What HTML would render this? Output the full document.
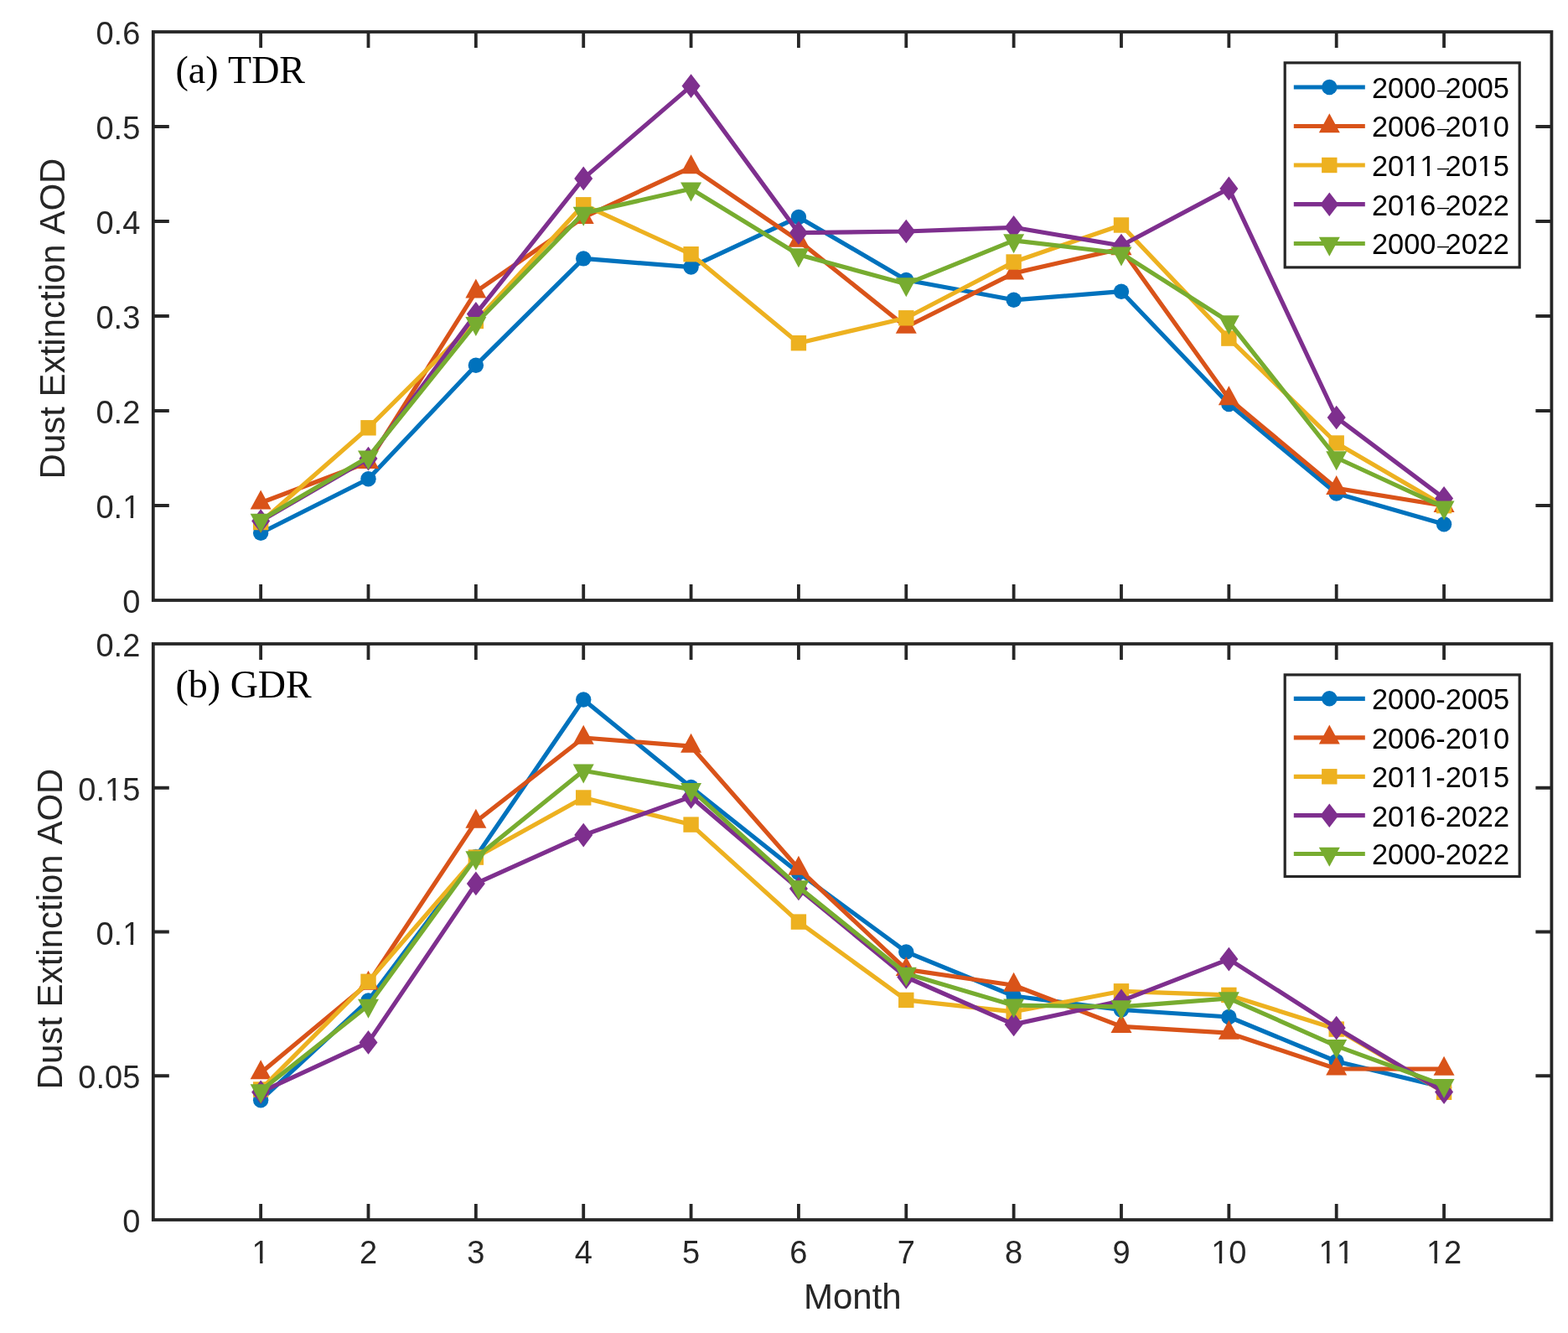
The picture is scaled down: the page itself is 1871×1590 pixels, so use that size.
<!DOCTYPE html>
<html><head><meta charset="utf-8"><title>Dust Extinction AOD</title>
<style>
html,body{margin:0;padding:0;background:#fff;}
body{width:1871px;height:1590px;overflow:hidden;}
svg{display:block;}
.tk{font-family:"Liberation Sans",Arial,sans-serif;font-size:38px;fill:#262626;font-kerning:none;}
.lb{font-family:"Liberation Sans",Arial,sans-serif;font-size:42px;fill:#262626;font-kerning:none;}
.lg{font-family:"Liberation Sans",Arial,sans-serif;font-size:34.3px;fill:#000;font-kerning:none;}
.dash{font-family:"Liberation Serif",serif;font-size:27px;}
.pl{font-family:"Liberation Serif","Times New Roman",serif;font-size:46px;fill:#000;font-kerning:none;}
</style></head>
<body>
<svg width="1871" height="1590" viewBox="0 0 1871 1590">
<rect width="1871" height="1590" fill="#fff"/>
<polyline points="311.15,635.8 439.51,571.3 567.86,435.7 696.22,308.4 824.57,318.6 952.92,258.9 1081.28,334 1209.63,357.8 1337.98,347.7 1466.34,482 1594.69,588.5 1723.05,625.2" fill="none" stroke="#0072BD" stroke-width="5.2" stroke-linejoin="round" stroke-linecap="butt"/>
<circle cx="311.15" cy="635.8" r="9.2" fill="#0072BD"/><circle cx="439.51" cy="571.3" r="9.2" fill="#0072BD"/><circle cx="567.86" cy="435.7" r="9.2" fill="#0072BD"/><circle cx="696.22" cy="308.4" r="9.2" fill="#0072BD"/><circle cx="824.57" cy="318.6" r="9.2" fill="#0072BD"/><circle cx="952.92" cy="258.9" r="9.2" fill="#0072BD"/><circle cx="1081.28" cy="334" r="9.2" fill="#0072BD"/><circle cx="1209.63" cy="357.8" r="9.2" fill="#0072BD"/><circle cx="1337.98" cy="347.7" r="9.2" fill="#0072BD"/><circle cx="1466.34" cy="482" r="9.2" fill="#0072BD"/><circle cx="1594.69" cy="588.5" r="9.2" fill="#0072BD"/><circle cx="1723.05" cy="625.2" r="9.2" fill="#0072BD"/>
<polyline points="311.15,599.8 439.51,551.3 567.86,347.8 696.22,259.3 824.57,199.6 952.92,287.1 1081.28,390 1209.63,325.9 1337.98,296.6 1466.34,475.6 1594.69,582.4 1723.05,603.3" fill="none" stroke="#D95319" stroke-width="5.2" stroke-linejoin="round" stroke-linecap="butt"/>
<polygon points="311.15,584.47 323.65,607.47 298.65,607.47" fill="#D95319"/><polygon points="439.51,535.97 452.01,558.97 427.01,558.97" fill="#D95319"/><polygon points="567.86,332.47 580.36,355.47 555.36,355.47" fill="#D95319"/><polygon points="696.22,243.97 708.72,266.97 683.72,266.97" fill="#D95319"/><polygon points="824.57,184.27 837.07,207.27 812.07,207.27" fill="#D95319"/><polygon points="952.92,271.77 965.42,294.77 940.42,294.77" fill="#D95319"/><polygon points="1081.28,374.67 1093.78,397.67 1068.78,397.67" fill="#D95319"/><polygon points="1209.63,310.57 1222.13,333.57 1197.13,333.57" fill="#D95319"/><polygon points="1337.98,281.27 1350.48,304.27 1325.48,304.27" fill="#D95319"/><polygon points="1466.34,460.27 1478.84,483.27 1453.84,483.27" fill="#D95319"/><polygon points="1594.69,567.07 1607.19,590.07 1582.19,590.07" fill="#D95319"/><polygon points="1723.05,587.97 1735.55,610.97 1710.55,610.97" fill="#D95319"/>
<polyline points="311.15,623 439.51,510.3 567.86,383 696.22,244.3 824.57,303.2 952.92,409.2 1081.28,379.3 1209.63,312.5 1337.98,268.5 1466.34,403.6 1594.69,528.5 1723.05,603.2" fill="none" stroke="#EDB120" stroke-width="5.2" stroke-linejoin="round" stroke-linecap="butt"/>
<rect x="301.95" y="613.8" width="18.4" height="18.4" fill="#EDB120"/><rect x="430.31" y="501.1" width="18.4" height="18.4" fill="#EDB120"/><rect x="558.66" y="373.8" width="18.4" height="18.4" fill="#EDB120"/><rect x="687.02" y="235.1" width="18.4" height="18.4" fill="#EDB120"/><rect x="815.37" y="294" width="18.4" height="18.4" fill="#EDB120"/><rect x="943.72" y="400" width="18.4" height="18.4" fill="#EDB120"/><rect x="1072.08" y="370.1" width="18.4" height="18.4" fill="#EDB120"/><rect x="1200.43" y="303.3" width="18.4" height="18.4" fill="#EDB120"/><rect x="1328.78" y="259.3" width="18.4" height="18.4" fill="#EDB120"/><rect x="1457.14" y="394.4" width="18.4" height="18.4" fill="#EDB120"/><rect x="1585.49" y="519.3" width="18.4" height="18.4" fill="#EDB120"/><rect x="1713.85" y="594" width="18.4" height="18.4" fill="#EDB120"/>
<polyline points="311.15,621.5 439.51,547.1 567.86,374.4 696.22,212.9 824.57,102.6 952.92,277.7 1081.28,276 1209.63,271.3 1337.98,293 1466.34,224.9 1594.69,498 1723.05,594.4" fill="none" stroke="#7E2F8E" stroke-width="5.2" stroke-linejoin="round" stroke-linecap="butt"/>
<polygon points="311.15,607.2 322.15,621.5 311.15,635.8 300.15,621.5" fill="#7E2F8E"/><polygon points="439.51,532.8 450.51,547.1 439.51,561.4 428.51,547.1" fill="#7E2F8E"/><polygon points="567.86,360.1 578.86,374.4 567.86,388.7 556.86,374.4" fill="#7E2F8E"/><polygon points="696.22,198.6 707.22,212.9 696.22,227.2 685.22,212.9" fill="#7E2F8E"/><polygon points="824.57,88.3 835.57,102.6 824.57,116.9 813.57,102.6" fill="#7E2F8E"/><polygon points="952.92,263.4 963.92,277.7 952.92,292 941.92,277.7" fill="#7E2F8E"/><polygon points="1081.28,261.7 1092.28,276 1081.28,290.3 1070.28,276" fill="#7E2F8E"/><polygon points="1209.63,257 1220.63,271.3 1209.63,285.6 1198.63,271.3" fill="#7E2F8E"/><polygon points="1337.98,278.7 1348.98,293 1337.98,307.3 1326.98,293" fill="#7E2F8E"/><polygon points="1466.34,210.6 1477.34,224.9 1466.34,239.2 1455.34,224.9" fill="#7E2F8E"/><polygon points="1594.69,483.7 1605.69,498 1594.69,512.3 1583.69,498" fill="#7E2F8E"/><polygon points="1723.05,580.1 1734.05,594.4 1723.05,608.7 1712.05,594.4" fill="#7E2F8E"/>
<polyline points="311.15,620.3 439.51,545.2 567.86,385.7 696.22,254.4 824.57,225.2 952.92,303.8 1081.28,338.8 1209.63,286.8 1337.98,302.1 1466.34,383.8 1594.69,546 1723.05,605.2" fill="none" stroke="#77AC30" stroke-width="5.2" stroke-linejoin="round" stroke-linecap="butt"/>
<polygon points="311.15,635.63 323.65,612.63 298.65,612.63" fill="#77AC30"/><polygon points="439.51,560.53 452.01,537.53 427.01,537.53" fill="#77AC30"/><polygon points="567.86,401.03 580.36,378.03 555.36,378.03" fill="#77AC30"/><polygon points="696.22,269.73 708.72,246.73 683.72,246.73" fill="#77AC30"/><polygon points="824.57,240.53 837.07,217.53 812.07,217.53" fill="#77AC30"/><polygon points="952.92,319.13 965.42,296.13 940.42,296.13" fill="#77AC30"/><polygon points="1081.28,354.13 1093.78,331.13 1068.78,331.13" fill="#77AC30"/><polygon points="1209.63,302.13 1222.13,279.13 1197.13,279.13" fill="#77AC30"/><polygon points="1337.98,317.43 1350.48,294.43 1325.48,294.43" fill="#77AC30"/><polygon points="1466.34,399.13 1478.84,376.13 1453.84,376.13" fill="#77AC30"/><polygon points="1594.69,561.33 1607.19,538.33 1582.19,538.33" fill="#77AC30"/><polygon points="1723.05,620.53 1735.55,597.53 1710.55,597.53" fill="#77AC30"/>
<rect x="182.8" y="38" width="1668.6" height="678" fill="none" stroke="#262626" stroke-width="3.8"/>
<path d="M311.15 716V697M311.15 38V57M439.51 716V697M439.51 38V57M567.86 716V697M567.86 38V57M696.22 716V697M696.22 38V57M824.57 716V697M824.57 38V57M952.92 716V697M952.92 38V57M1081.28 716V697M1081.28 38V57M1209.63 716V697M1209.63 38V57M1337.98 716V697M1337.98 38V57M1466.34 716V697M1466.34 38V57M1594.69 716V697M1594.69 38V57M1723.05 716V697M1723.05 38V57M182.8 603H201.8M1851.4 603H1832.4M182.8 490H201.8M1851.4 490H1832.4M182.8 377H201.8M1851.4 377H1832.4M182.8 264H201.8M1851.4 264H1832.4M182.8 151H201.8M1851.4 151H1832.4" stroke="#262626" stroke-width="3.8" fill="none"/>
<text x="167.3" y="731" text-anchor="end" class="tk">0</text>
<text x="167.3" y="618" text-anchor="end" class="tk">0.1</text>
<text x="167.3" y="505" text-anchor="end" class="tk">0.2</text>
<text x="167.3" y="392" text-anchor="end" class="tk">0.3</text>
<text x="167.3" y="279" text-anchor="end" class="tk">0.4</text>
<text x="167.3" y="166" text-anchor="end" class="tk">0.5</text>
<text x="167.3" y="53" text-anchor="end" class="tk">0.6</text>
<text x="209.5" y="98.9" class="pl">(a) TDR</text>
<text transform="translate(76.5 380) rotate(-90)" text-anchor="middle" class="lb">Dust Extinction AOD</text>
<rect x="1533.2" y="74.9" width="280" height="244" fill="#fff" stroke="#262626" stroke-width="3.2"/>
<path d="M1543.8 104H1628.8" stroke="#0072BD" stroke-width="5.2"/>
<circle cx="1586.3" cy="104" r="9.2" fill="#0072BD"/>
<text x="1637" y="116.9" class="lg">2000<tspan dx="1.85" dy="-2" class="dash">&#8211;</tspan><tspan dx="-4.04" dy="2">2005</tspan></text>
<path d="M1543.8 150.5H1628.8" stroke="#D95319" stroke-width="5.2"/>
<polygon points="1586.3,135.17 1598.8,158.17 1573.8,158.17" fill="#D95319"/>
<text x="1637" y="163.4" class="lg">2006<tspan dx="1.85" dy="-2" class="dash">&#8211;</tspan><tspan dx="-4.04" dy="2">2010</tspan></text>
<path d="M1543.8 197H1628.8" stroke="#EDB120" stroke-width="5.2"/>
<rect x="1577.1" y="187.8" width="18.4" height="18.4" fill="#EDB120"/>
<text x="1637" y="209.9" class="lg">2011<tspan dx="1.85" dy="-2" class="dash">&#8211;</tspan><tspan dx="-4.04" dy="2">2015</tspan></text>
<path d="M1543.8 243.7H1628.8" stroke="#7E2F8E" stroke-width="5.2"/>
<polygon points="1586.3,229.4 1597.3,243.7 1586.3,258 1575.3,243.7" fill="#7E2F8E"/>
<text x="1637" y="256.6" class="lg">2016<tspan dx="1.85" dy="-2" class="dash">&#8211;</tspan><tspan dx="-4.04" dy="2">2022</tspan></text>
<path d="M1543.8 290.5H1628.8" stroke="#77AC30" stroke-width="5.2"/>
<polygon points="1586.3,305.83 1598.8,282.83 1573.8,282.83" fill="#77AC30"/>
<text x="1637" y="303.4" class="lg">2000<tspan dx="1.85" dy="-2" class="dash">&#8211;</tspan><tspan dx="-4.04" dy="2">2022</tspan></text>
<polyline points="311.15,1312.2 439.51,1193.4 567.86,1022 696.22,834.5 824.57,939 952.92,1041 1081.28,1135.4 1209.63,1188 1337.98,1204.5 1466.34,1213 1594.69,1266 1723.05,1297" fill="none" stroke="#0072BD" stroke-width="5.2" stroke-linejoin="round" stroke-linecap="butt"/>
<circle cx="311.15" cy="1312.2" r="9.2" fill="#0072BD"/><circle cx="439.51" cy="1193.4" r="9.2" fill="#0072BD"/><circle cx="567.86" cy="1022" r="9.2" fill="#0072BD"/><circle cx="696.22" cy="834.5" r="9.2" fill="#0072BD"/><circle cx="824.57" cy="939" r="9.2" fill="#0072BD"/><circle cx="952.92" cy="1041" r="9.2" fill="#0072BD"/><circle cx="1081.28" cy="1135.4" r="9.2" fill="#0072BD"/><circle cx="1209.63" cy="1188" r="9.2" fill="#0072BD"/><circle cx="1337.98" cy="1204.5" r="9.2" fill="#0072BD"/><circle cx="1466.34" cy="1213" r="9.2" fill="#0072BD"/><circle cx="1594.69" cy="1266" r="9.2" fill="#0072BD"/><circle cx="1723.05" cy="1297" r="9.2" fill="#0072BD"/>
<polyline points="311.15,1279.7 439.51,1173 567.86,980 696.22,880 824.57,890.2 952.92,1036.2 1081.28,1156.4 1209.63,1175.2 1337.98,1224.4 1466.34,1232.2 1594.69,1274.8 1723.05,1275.2" fill="none" stroke="#D95319" stroke-width="5.2" stroke-linejoin="round" stroke-linecap="butt"/>
<polygon points="311.15,1264.37 323.65,1287.37 298.65,1287.37" fill="#D95319"/><polygon points="439.51,1157.67 452.01,1180.67 427.01,1180.67" fill="#D95319"/><polygon points="567.86,964.67 580.36,987.67 555.36,987.67" fill="#D95319"/><polygon points="696.22,864.67 708.72,887.67 683.72,887.67" fill="#D95319"/><polygon points="824.57,874.87 837.07,897.87 812.07,897.87" fill="#D95319"/><polygon points="952.92,1020.87 965.42,1043.87 940.42,1043.87" fill="#D95319"/><polygon points="1081.28,1141.07 1093.78,1164.07 1068.78,1164.07" fill="#D95319"/><polygon points="1209.63,1159.87 1222.13,1182.87 1197.13,1182.87" fill="#D95319"/><polygon points="1337.98,1209.07 1350.48,1232.07 1325.48,1232.07" fill="#D95319"/><polygon points="1466.34,1216.87 1478.84,1239.87 1453.84,1239.87" fill="#D95319"/><polygon points="1594.69,1259.47 1607.19,1282.47 1582.19,1282.47" fill="#D95319"/><polygon points="1723.05,1259.87 1735.55,1282.87 1710.55,1282.87" fill="#D95319"/>
<polyline points="311.15,1299.5 439.51,1170.8 567.86,1022.6 696.22,951.5 824.57,983.6 952.92,1099.6 1081.28,1192.9 1209.63,1206.8 1337.98,1182.3 1466.34,1186.9 1594.69,1227.6 1723.05,1302.8" fill="none" stroke="#EDB120" stroke-width="5.2" stroke-linejoin="round" stroke-linecap="butt"/>
<rect x="301.95" y="1290.3" width="18.4" height="18.4" fill="#EDB120"/><rect x="430.31" y="1161.6" width="18.4" height="18.4" fill="#EDB120"/><rect x="558.66" y="1013.4" width="18.4" height="18.4" fill="#EDB120"/><rect x="687.02" y="942.3" width="18.4" height="18.4" fill="#EDB120"/><rect x="815.37" y="974.4" width="18.4" height="18.4" fill="#EDB120"/><rect x="943.72" y="1090.4" width="18.4" height="18.4" fill="#EDB120"/><rect x="1072.08" y="1183.7" width="18.4" height="18.4" fill="#EDB120"/><rect x="1200.43" y="1197.6" width="18.4" height="18.4" fill="#EDB120"/><rect x="1328.78" y="1173.1" width="18.4" height="18.4" fill="#EDB120"/><rect x="1457.14" y="1177.7" width="18.4" height="18.4" fill="#EDB120"/><rect x="1585.49" y="1218.4" width="18.4" height="18.4" fill="#EDB120"/><rect x="1713.85" y="1293.6" width="18.4" height="18.4" fill="#EDB120"/>
<polyline points="311.15,1302.7 439.51,1243.4 567.86,1053.9 696.22,996.1 824.57,950.4 952.92,1060 1081.28,1165.5 1209.63,1221.9 1337.98,1193.9 1466.34,1144.1 1594.69,1226.1 1723.05,1302.6" fill="none" stroke="#7E2F8E" stroke-width="5.2" stroke-linejoin="round" stroke-linecap="butt"/>
<polygon points="311.15,1288.4 322.15,1302.7 311.15,1317 300.15,1302.7" fill="#7E2F8E"/><polygon points="439.51,1229.1 450.51,1243.4 439.51,1257.7 428.51,1243.4" fill="#7E2F8E"/><polygon points="567.86,1039.6 578.86,1053.9 567.86,1068.2 556.86,1053.9" fill="#7E2F8E"/><polygon points="696.22,981.8 707.22,996.1 696.22,1010.4 685.22,996.1" fill="#7E2F8E"/><polygon points="824.57,936.1 835.57,950.4 824.57,964.7 813.57,950.4" fill="#7E2F8E"/><polygon points="952.92,1045.7 963.92,1060 952.92,1074.3 941.92,1060" fill="#7E2F8E"/><polygon points="1081.28,1151.2 1092.28,1165.5 1081.28,1179.8 1070.28,1165.5" fill="#7E2F8E"/><polygon points="1209.63,1207.6 1220.63,1221.9 1209.63,1236.2 1198.63,1221.9" fill="#7E2F8E"/><polygon points="1337.98,1179.6 1348.98,1193.9 1337.98,1208.2 1326.98,1193.9" fill="#7E2F8E"/><polygon points="1466.34,1129.8 1477.34,1144.1 1466.34,1158.4 1455.34,1144.1" fill="#7E2F8E"/><polygon points="1594.69,1211.8 1605.69,1226.1 1594.69,1240.4 1583.69,1226.1" fill="#7E2F8E"/><polygon points="1723.05,1288.3 1734.05,1302.6 1723.05,1316.9 1712.05,1302.6" fill="#7E2F8E"/>
<polyline points="311.15,1301 439.51,1199.3 567.86,1023 696.22,919.2 824.57,941.6 952.92,1057.9 1081.28,1161.3 1209.63,1199.2 1337.98,1200.8 1466.34,1190.8 1594.69,1247.6 1723.05,1294.6" fill="none" stroke="#77AC30" stroke-width="5.2" stroke-linejoin="round" stroke-linecap="butt"/>
<polygon points="311.15,1316.33 323.65,1293.33 298.65,1293.33" fill="#77AC30"/><polygon points="439.51,1214.63 452.01,1191.63 427.01,1191.63" fill="#77AC30"/><polygon points="567.86,1038.33 580.36,1015.33 555.36,1015.33" fill="#77AC30"/><polygon points="696.22,934.53 708.72,911.53 683.72,911.53" fill="#77AC30"/><polygon points="824.57,956.93 837.07,933.93 812.07,933.93" fill="#77AC30"/><polygon points="952.92,1073.23 965.42,1050.23 940.42,1050.23" fill="#77AC30"/><polygon points="1081.28,1176.63 1093.78,1153.63 1068.78,1153.63" fill="#77AC30"/><polygon points="1209.63,1214.53 1222.13,1191.53 1197.13,1191.53" fill="#77AC30"/><polygon points="1337.98,1216.13 1350.48,1193.13 1325.48,1193.13" fill="#77AC30"/><polygon points="1466.34,1206.13 1478.84,1183.13 1453.84,1183.13" fill="#77AC30"/><polygon points="1594.69,1262.93 1607.19,1239.93 1582.19,1239.93" fill="#77AC30"/><polygon points="1723.05,1309.93 1735.55,1286.93 1710.55,1286.93" fill="#77AC30"/>
<rect x="182.8" y="768" width="1668.6" height="687" fill="none" stroke="#262626" stroke-width="3.8"/>
<path d="M311.15 1455V1436M311.15 768V787M439.51 1455V1436M439.51 768V787M567.86 1455V1436M567.86 768V787M696.22 1455V1436M696.22 768V787M824.57 1455V1436M824.57 768V787M952.92 1455V1436M952.92 768V787M1081.28 1455V1436M1081.28 768V787M1209.63 1455V1436M1209.63 768V787M1337.98 1455V1436M1337.98 768V787M1466.34 1455V1436M1466.34 768V787M1594.69 1455V1436M1594.69 768V787M1723.05 1455V1436M1723.05 768V787M182.8 1283.25H201.8M1851.4 1283.25H1832.4M182.8 1111.5H201.8M1851.4 1111.5H1832.4M182.8 939.75H201.8M1851.4 939.75H1832.4" stroke="#262626" stroke-width="3.8" fill="none"/>
<text x="167.3" y="1470" text-anchor="end" class="tk">0</text>
<text x="167.3" y="1298.25" text-anchor="end" class="tk">0.05</text>
<text x="167.3" y="1126.5" text-anchor="end" class="tk">0.1</text>
<text x="167.3" y="954.75" text-anchor="end" class="tk">0.15</text>
<text x="167.3" y="783" text-anchor="end" class="tk">0.2</text>
<text x="311.15" y="1507" text-anchor="middle" class="tk">1</text>
<text x="439.51" y="1507" text-anchor="middle" class="tk">2</text>
<text x="567.86" y="1507" text-anchor="middle" class="tk">3</text>
<text x="696.22" y="1507" text-anchor="middle" class="tk">4</text>
<text x="824.57" y="1507" text-anchor="middle" class="tk">5</text>
<text x="952.92" y="1507" text-anchor="middle" class="tk">6</text>
<text x="1081.28" y="1507" text-anchor="middle" class="tk">7</text>
<text x="1209.63" y="1507" text-anchor="middle" class="tk">8</text>
<text x="1337.98" y="1507" text-anchor="middle" class="tk">9</text>
<text x="1466.34" y="1507" text-anchor="middle" class="tk">10</text>
<text x="1594.69" y="1507" text-anchor="middle" class="tk">11</text>
<text x="1723.05" y="1507" text-anchor="middle" class="tk">12</text>
<text x="209.5" y="832.2" class="pl">(b) GDR</text>
<text transform="translate(74.4 1108) rotate(-90)" text-anchor="middle" class="lb">Dust Extinction AOD</text>
<rect x="1533.2" y="804.9" width="280" height="240.6" fill="#fff" stroke="#262626" stroke-width="3.2"/>
<path d="M1543.8 833.3H1628.8" stroke="#0072BD" stroke-width="5.2"/>
<circle cx="1586.3" cy="833.3" r="9.2" fill="#0072BD"/>
<text x="1637" y="846.2" class="lg">2000-2005</text>
<path d="M1543.8 879.8H1628.8" stroke="#D95319" stroke-width="5.2"/>
<polygon points="1586.3,864.47 1598.8,887.47 1573.8,887.47" fill="#D95319"/>
<text x="1637" y="892.7" class="lg">2006-2010</text>
<path d="M1543.8 926.3H1628.8" stroke="#EDB120" stroke-width="5.2"/>
<rect x="1577.1" y="917.1" width="18.4" height="18.4" fill="#EDB120"/>
<text x="1637" y="939.2" class="lg">2011-2015</text>
<path d="M1543.8 972.7H1628.8" stroke="#7E2F8E" stroke-width="5.2"/>
<polygon points="1586.3,958.4 1597.3,972.7 1586.3,987 1575.3,972.7" fill="#7E2F8E"/>
<text x="1637" y="985.6" class="lg">2016-2022</text>
<path d="M1543.8 1018.5H1628.8" stroke="#77AC30" stroke-width="5.2"/>
<polygon points="1586.3,1033.83 1598.8,1010.83 1573.8,1010.83" fill="#77AC30"/>
<text x="1637" y="1031.4" class="lg">2000-2022</text>
<text x="1017.3" y="1561" text-anchor="middle" class="lb">Month</text>
<g fill="#fff"><rect x="148.15" y="613.56" width="7.57" height="5.44"/><rect x="159.08" y="613.56" width="7.28" height="5.44"/><rect x="1764.59" y="159.24" width="6.91" height="5.16"/><rect x="1774.53" y="159.24" width="6.65" height="5.16"/><rect x="1676.86" y="205.74" width="6.91" height="5.16"/><rect x="1686.81" y="205.74" width="6.65" height="5.16"/><rect x="1695.94" y="205.74" width="6.91" height="5.16"/><rect x="1705.88" y="205.74" width="6.65" height="5.16"/><rect x="1764.59" y="205.74" width="6.91" height="5.16"/><rect x="1774.53" y="205.74" width="6.65" height="5.16"/><rect x="1676.86" y="252.44" width="6.91" height="5.16"/><rect x="1686.81" y="252.44" width="6.65" height="5.16"/><rect x="148.15" y="1122.06" width="7.57" height="5.44"/><rect x="159.08" y="1122.06" width="7.28" height="5.44"/><rect x="127.02" y="950.31" width="7.57" height="5.44"/><rect x="137.95" y="950.31" width="7.28" height="5.44"/><rect x="302.57" y="1502.56" width="7.57" height="5.44"/><rect x="313.5" y="1502.56" width="7.28" height="5.44"/><rect x="1447.19" y="1502.56" width="7.57" height="5.44"/><rect x="1458.12" y="1502.56" width="7.28" height="5.44"/><rect x="1575.54" y="1502.56" width="7.57" height="5.44"/><rect x="1586.47" y="1502.56" width="7.28" height="5.44"/><rect x="1596.68" y="1502.56" width="7.57" height="5.44"/><rect x="1607.61" y="1502.56" width="7.28" height="5.44"/><rect x="1703.9" y="1502.56" width="7.57" height="5.44"/><rect x="1714.83" y="1502.56" width="7.28" height="5.44"/><rect x="1764.59" y="888.54" width="6.91" height="5.16"/><rect x="1774.53" y="888.54" width="6.65" height="5.16"/><rect x="1676.86" y="935.04" width="6.91" height="5.16"/><rect x="1686.81" y="935.04" width="6.65" height="5.16"/><rect x="1695.94" y="935.04" width="6.91" height="5.16"/><rect x="1705.88" y="935.04" width="6.65" height="5.16"/><rect x="1764.59" y="935.04" width="6.91" height="5.16"/><rect x="1774.53" y="935.04" width="6.65" height="5.16"/><rect x="1676.86" y="981.44" width="6.91" height="5.16"/><rect x="1686.81" y="981.44" width="6.65" height="5.16"/></g>
</svg>
</body></html>
